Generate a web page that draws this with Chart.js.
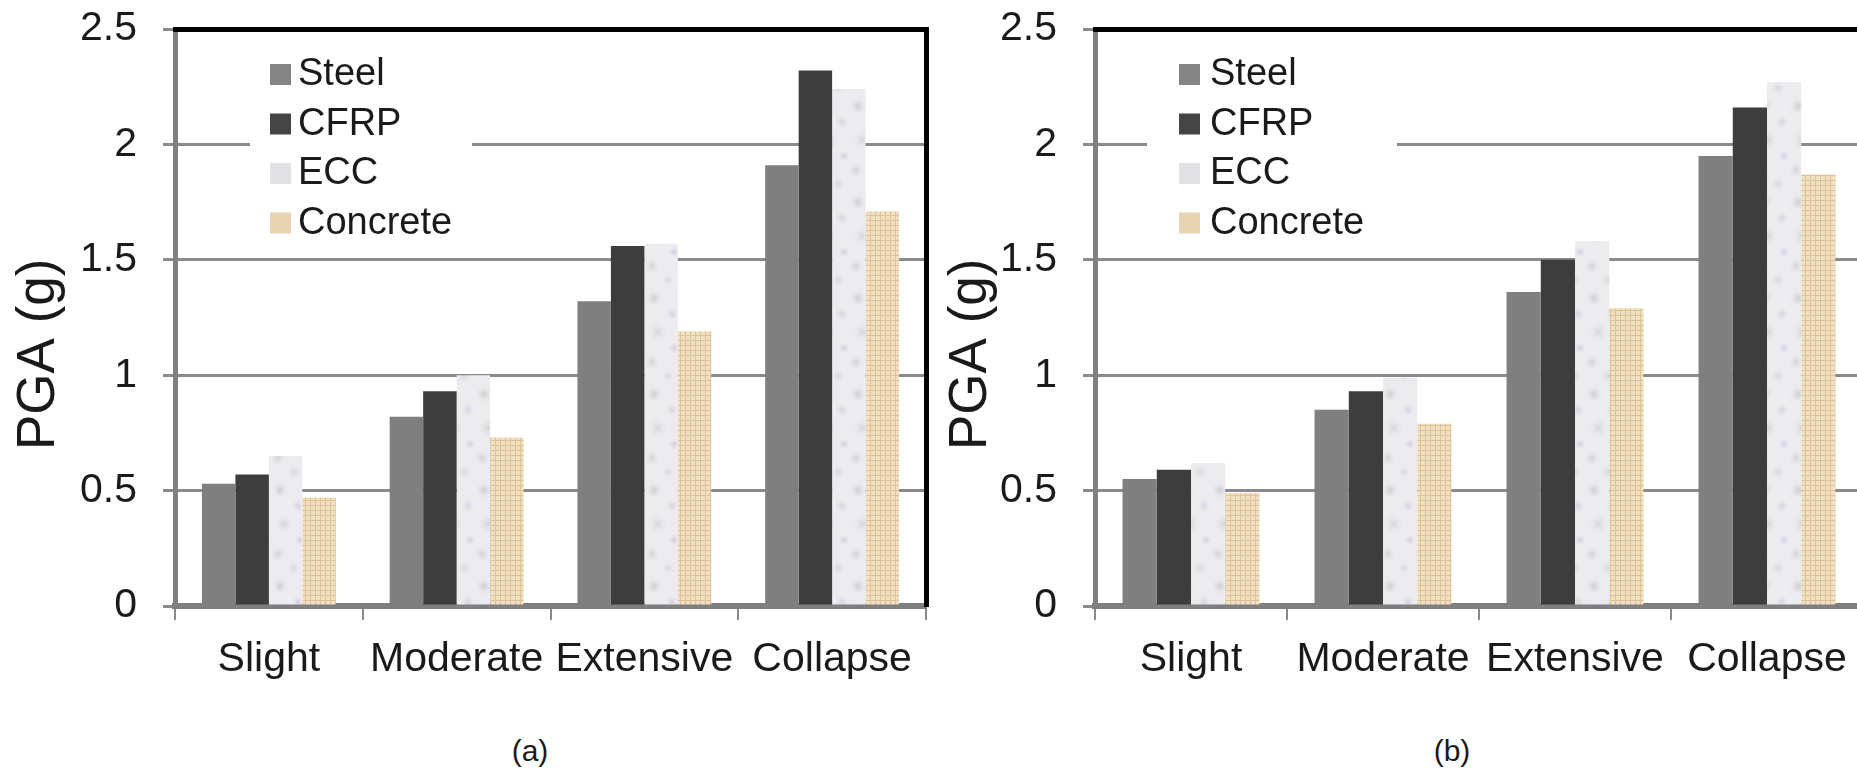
<!DOCTYPE html>
<html>
<head>
<meta charset="utf-8">
<title>PGA por estado de dano</title>
<script src="https://cdn.jsdelivr.net/npm/chart.js@4.4.1/dist/chart.umd.min.js"></script>
<style>
  html, body { margin: 0; padding: 0; background: #fff; overflow: hidden; }
  body { width: 1857px; height: 768px; position: relative; }
  canvas { position: absolute; top: 0; }
  #chartA { left: 0; }
  #chartB { left: 940px; }
  .caption {
    position: absolute; top: 734px; line-height: 32px;
    font: 30px 'Liberation Sans', Arial, sans-serif; color: #1a1a1a;
    transform: translateX(-50%);
  }
</style>
</head>
<body>
<canvas id="chartA" width="940" height="700"></canvas>
<canvas id="chartB" width="940" height="700"></canvas>
<div class="caption" style="left:530px">(a)</div>
<div class="caption" style="left:1452px">(b)</div>

<script>
const categories = ['Slight', 'Moderate', 'Extensive', 'Collapse'];
const seriesNames = ['Steel', 'CFRP', 'ECC', 'Concrete'];
const yTicks = [0, 0.5, 1, 1.5, 2, 2.5];

// painel (a)
const steelA = [0.53, 0.82, 1.32, 1.91];
const cfrpA = [0.57, 0.93, 1.56, 2.32];
const eccA = [0.65, 1.00, 1.57, 2.24];
const concreteA = [0.47, 0.73, 1.19, 1.71];

// painel (b)
const steelB = [0.55, 0.85, 1.36, 1.95];
const cfrpB = [0.59, 0.93, 1.50, 2.16];
const eccB = [0.62, 0.99, 1.58, 2.27];
const concreteB = [0.49, 0.79, 1.29, 1.87];

const fontFamily = "'Liberation Sans', Arial, sans-serif";
const textColor = '#1a1a1a';
const gridColor = '#8a8a8a';

// textura tipo marmore para o ECC (manchas suaves)
function eccPattern() {
    const c = document.createElement('canvas');
    c.width = 34; c.height = 96;
    const g = c.getContext('2d');
    g.fillStyle = '#ececf0';
    g.fillRect(0, 0, c.width, c.height);
    const blots = [
        [8, 10, 10, 'rgba(140,140,155,0.35)'],
        [26, 26, 8, 'rgba(165,155,195,0.35)'],
        [12, 44, 11, 'rgba(150,150,160,0.28)'],
        [28, 60, 7, 'rgba(155,145,190,0.35)'],
        [6, 74, 9, 'rgba(145,145,155,0.30)'],
        [22, 88, 8, 'rgba(170,170,185,0.35)']
    ];
    blots.forEach(b => {
        const grad = g.createRadialGradient(b[0], b[1], 0, b[0], b[1], b[2]);
        grad.addColorStop(0, b[3]);
        grad.addColorStop(1, 'rgba(236,236,240,0)');
        g.fillStyle = grad;
        g.fillRect(b[0] - b[2], b[1] - b[2], b[2] * 2, b[2] * 2);
    });
    return g.createPattern(c, 'repeat');
}

// textura quadriculada bege para o concreto
function concretePattern() {
    const c = document.createElement('canvas');
    c.width = 5; c.height = 5;
    const g = c.getContext('2d');
    g.fillStyle = '#f0dfc0';
    g.fillRect(0, 0, 5, 5);
    g.fillStyle = '#dcc39a';
    g.fillRect(0, 0, 5, 1);
    g.fillRect(0, 0, 1, 5);
    return g.createPattern(c, 'repeat');
}

const fills = ['#7f7f7f', '#3d3d3d', eccPattern(), concretePattern()];
const swatches = ['#858585', '#444444', '#e2e2e6', '#e8d4b2'];

// legenda desenhada dentro da area do grafico, com fundo branco
const legendBox = {
    id: 'legendBox',
    afterDraw(chart, args, opts) {
        const { ctx, chartArea, data } = chart;
        const x0 = chartArea.left;
        ctx.save();
        ctx.fillStyle = '#fff';
        ctx.fillRect(x0 + opts.boxLeft, opts.boxTop, opts.boxRight - opts.boxLeft, opts.boxBottom - opts.boxTop);
        ctx.font = `38px ${fontFamily}`;
        ctx.textBaseline = 'middle';
        ctx.textAlign = 'left';
        data.datasets.forEach((ds, i) => {
            const y = opts.firstRow + i * opts.rowGap;
            ctx.fillStyle = ds.legendColor;
            ctx.fillRect(x0 + opts.swatchX, y - 10, 21, 21);
            ctx.fillStyle = textColor;
            ctx.fillText(ds.label, x0 + opts.textX, y + 1);
        });
        ctx.restore();
    }
};

function buildChart(canvasId, values, layout) {
    const datasets = seriesNames.map((name, i) => ({
        label: name,
        data: values[i],
        backgroundColor: fills[i],
        legendColor: swatches[i],
        borderWidth: 0,
        xAxisID: 'x',
        yAxisID: 'y'
    }));

    return new Chart(document.getElementById(canvasId), {
        type: 'bar',
        data: { labels: categories, datasets: datasets },
        options: {
            responsive: false,
            animation: false,
            layout: { padding: 0 },
            datasets: { bar: { categoryPercentage: 0.713, barPercentage: 1 } },
            plugins: {
                legend: { display: false },
                tooltip: { enabled: false },
                legendBox: layout.legend
            },
            scales: {
                x: {
                    type: 'category',
                    grid: { display: true, drawOnChartArea: false, offset: true, tickLength: 14, color: gridColor, lineWidth: 2 },
                    border: { color: '#7f7f7f', width: 6 },
                    ticks: { font: { size: 41, family: fontFamily }, color: textColor, padding: 15, maxRotation: 0, autoSkip: false },
                    afterFit: s => { s.height = 94; }
                },
                y: {
                    type: 'linear',
                    min: 0,
                    max: 2.5,
                    afterBuildTicks: s => { s.ticks = yTicks.map(v => ({ value: v })); },
                    grid: { color: gridColor, lineWidth: 3, tickLength: 12, tickColor: gridColor, tickWidth: 3 },
                    border: { color: '#808080', width: 5 },
                    ticks: { font: { size: 41, family: fontFamily }, color: textColor, padding: 26, callback: v => String(v) },
                    title: {
                        display: true,
                        text: 'PGA (g)     ',
                        font: { size: 53, family: fontFamily },
                        color: textColor,
                        padding: { top: layout.titlePad, bottom: 0 }
                    },
                    afterFit: s => {
                        s.width = layout.axisWidth;
                        // o padding dos rotulos nao deve empurrar a area do grafico
                        s.paddingTop = 0;
                        s.paddingBottom = 0;
                    }
                },
                // moldura preta no topo e a direita
                x2: {
                    type: 'category',
                    position: 'top',
                    grid: { display: false },
                    ticks: { display: false },
                    border: { color: '#000', width: 5 },
                    afterFit: s => { s.height = 29; }
                },
                y2: {
                    type: 'linear',
                    position: 'right',
                    min: 0,
                    max: 2.5,
                    grid: { display: false },
                    ticks: { display: false },
                    border: { color: '#000', width: 5 },
                    afterFit: s => { s.width = layout.right; }
                }
            }
        },
        plugins: [legendBox]
    });
}

buildChart('chartA', [steelA, cfrpA, eccA, concreteA], {
    axisWidth: 175, right: 14, titlePad: 8,
    legend: { boxLeft: 75, boxRight: 297, boxTop: 40, boxBottom: 248, swatchX: 95, textX: 123, firstRow: 74, rowGap: 49.5 }
});

buildChart('chartB', [steelB, cfrpB, eccB, concreteB], {
    axisWidth: 155, right: 17, titlePad: 0,
    legend: { boxLeft: 52, boxRight: 302, boxTop: 40, boxBottom: 248, swatchX: 84, textX: 115, firstRow: 74, rowGap: 49.5 }
});
</script>
</body>
</html>
